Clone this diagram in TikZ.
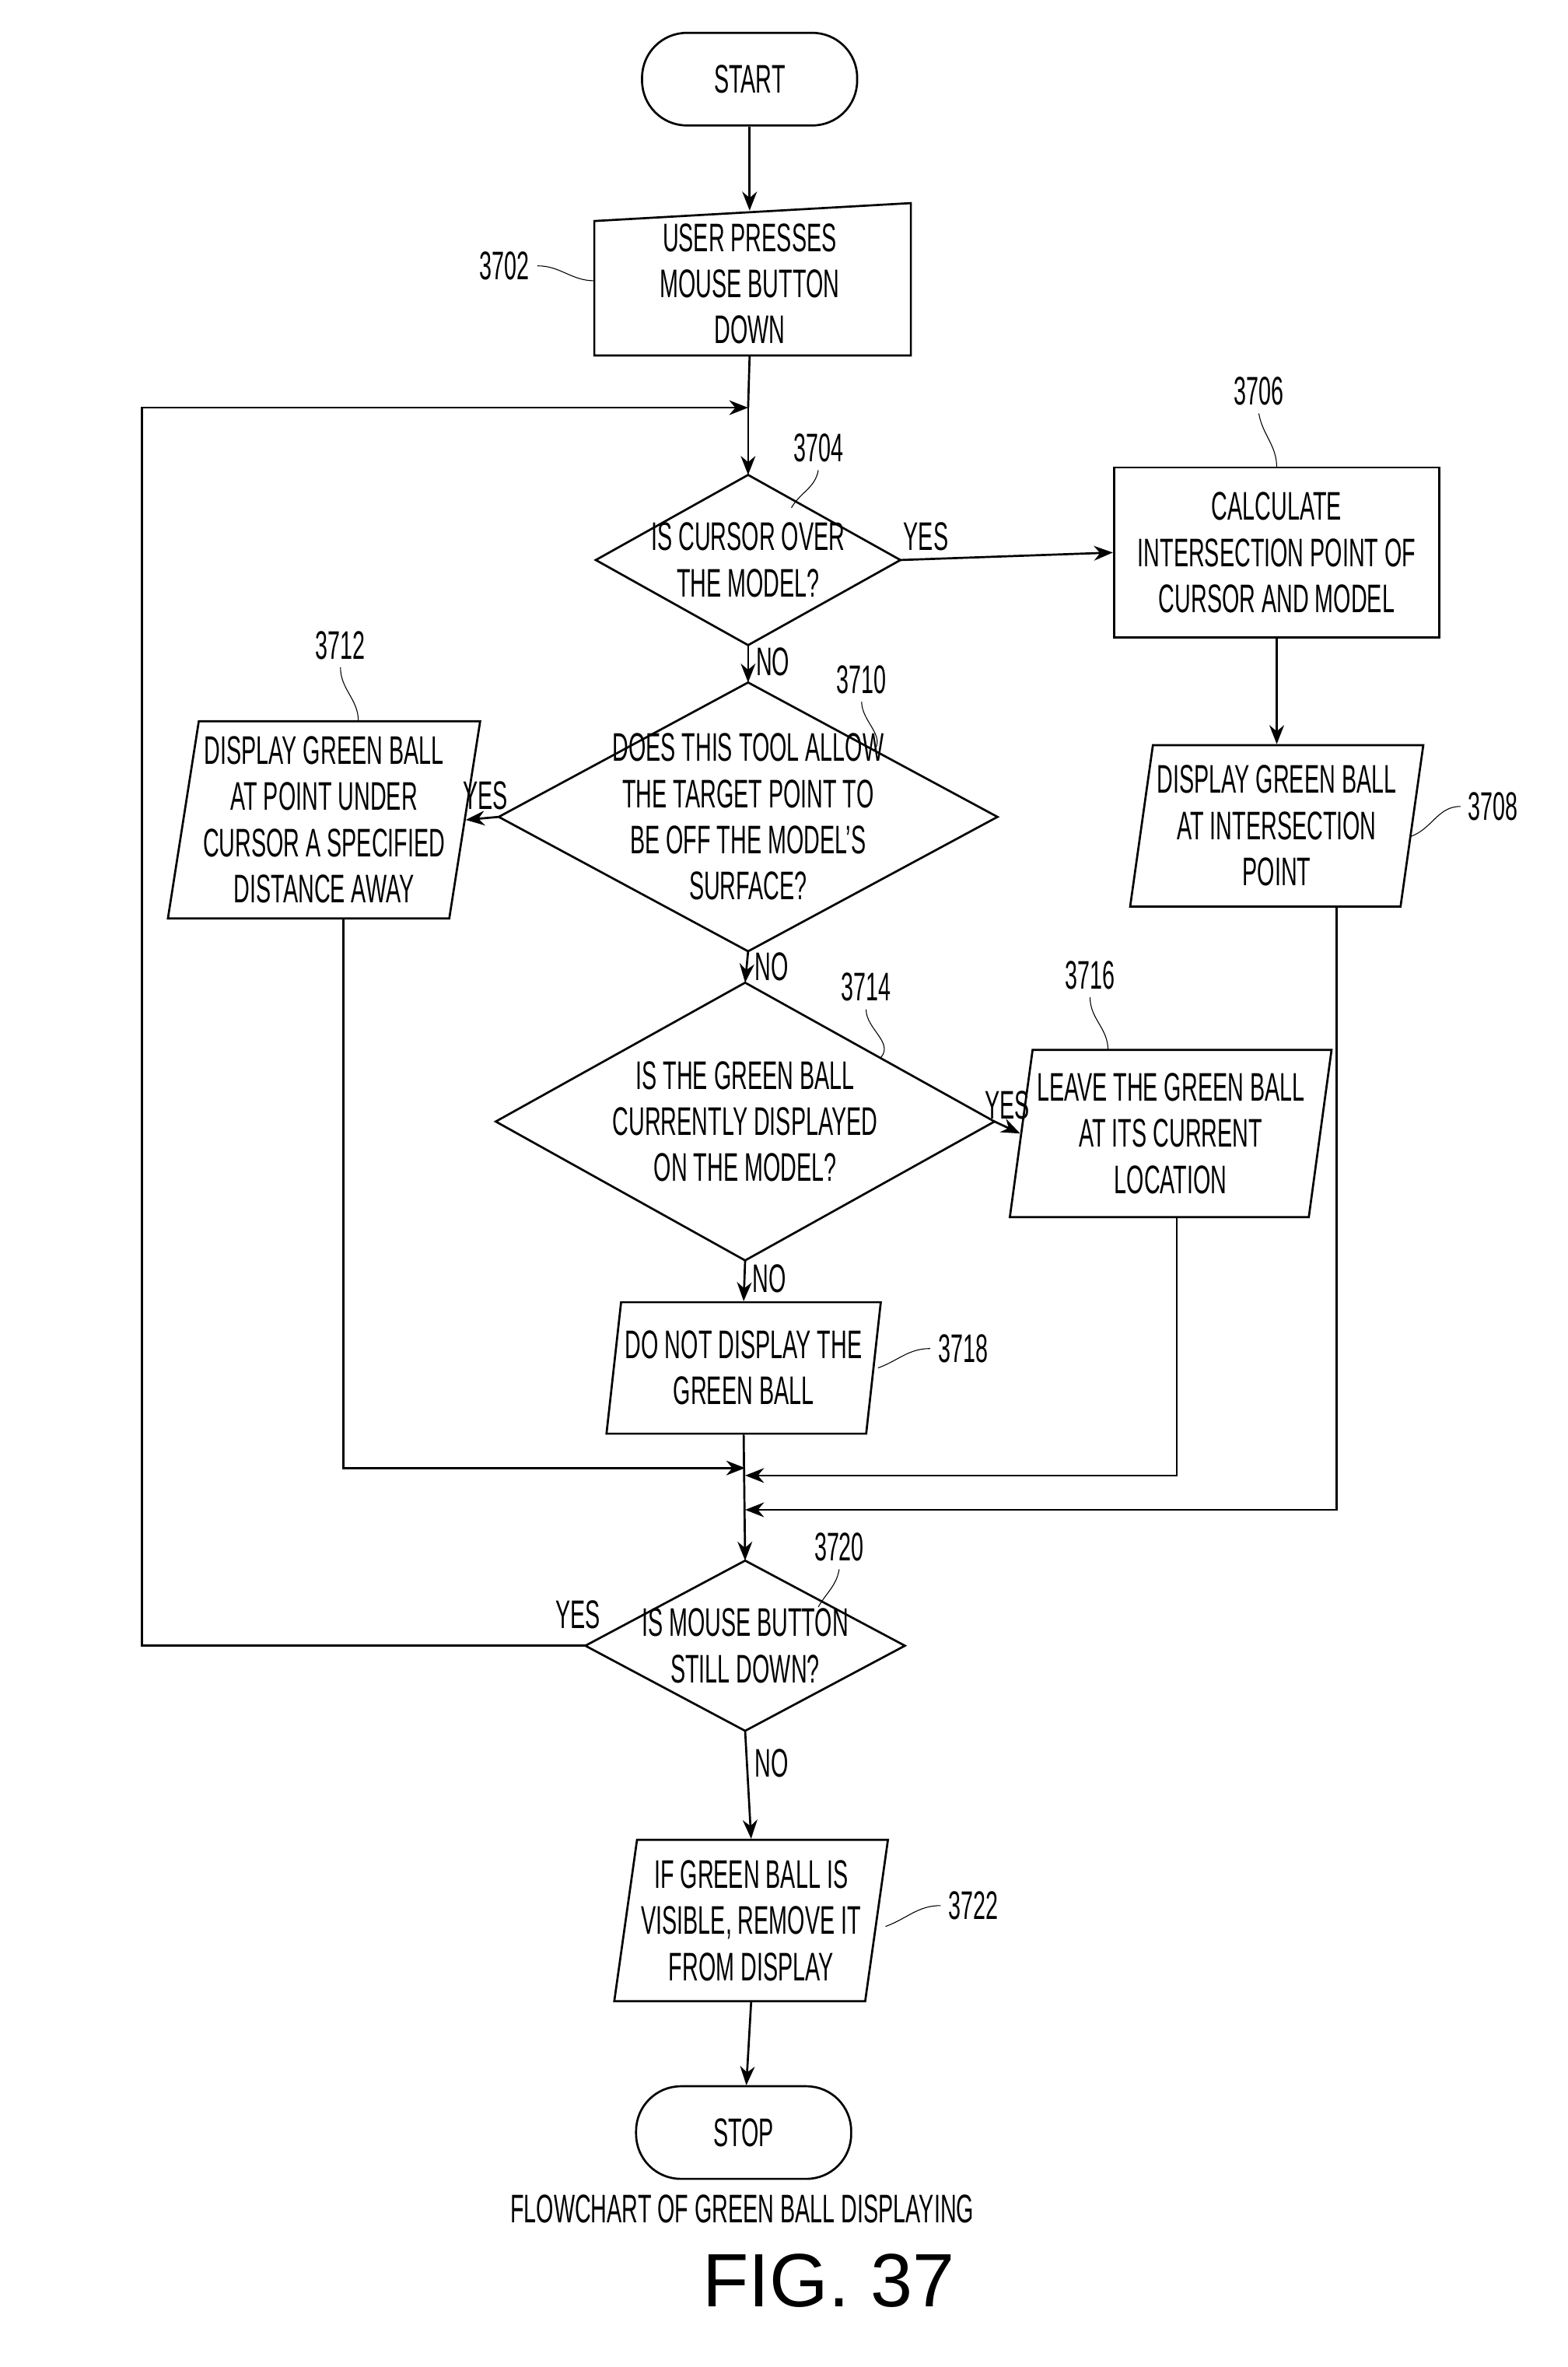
\documentclass[tikz,border=0pt]{standalone}
\usepackage{fontspec}
\setmainfont{Liberation Sans}[FakeStretch=0.56]
\newfontfamily\figfont{Liberation Sans}
\usetikzlibrary{shapes.geometric,arrows.meta}

\tikzset{
  txt/.style={font=\fontsize{19}{22}\selectfont, align=center},
  term/.style={txt, draw, rounded corners=0.75cm, minimum width=3.6cm, minimum height=1.55cm},
  proc/.style={txt, draw, minimum width=5.45cm, minimum height=2.85cm},
  io/.style={txt, draw, trapezium, trapezium left angle=80, trapezium right angle=100,
    trapezium stretches body, inner sep=2pt},
  flow/.style={-{Stealth[length=9pt,width=7pt]}},
  lead/.style={thin},
  num/.style={font=\fontsize{19}{22}\selectfont},
}
% decision: name, x, y, half width, half height, text
\newcommand\decbox[6]{%
  \draw (#2-#4,#3) -- (#2,#3-#5) -- (#2+#4,#3) -- (#2,#3+#5) -- cycle;
  \node[txt] (#1) at (#2,#3) {#6};
  \coordinate (#1-n) at (#2,#3-#5);
  \coordinate (#1-s) at (#2,#3+#5);
  \coordinate (#1-e) at (#2+#4,#3);
  \coordinate (#1-w) at (#2-#4,#3);
}

\begin{document}
\begin{tikzpicture}[x=0.025cm,y=-0.025cm,line width=1pt]
  \useasboundingbox (0,0) rectangle (1050,1585);

  % Start / stop
  \node[term] (start) at (502,53) {START};
  \node[term] (stop) at (498,1428) {STOP};

  % Manual input box
  \draw (398,148) -- (610,136) -- (610,238) -- (398,238) -- cycle;
  \node[txt] (s3702) at (502,190) {USER PRESSES\\MOUSE BUTTON\\DOWN};
  \coordinate (in3702) at (502,238);
  \coordinate (top3702) at (502,141);

  % Decisions
  \decbox{d3704}{501}{375}{102}{57}{IS CURSOR OVER\\THE MODEL?}
  \decbox{d3710}{501}{547}{167}{90}{DOES THIS TOOL ALLOW\\THE TARGET POINT TO\\BE OFF THE MODEL'S\\SURFACE?}
  \decbox{d3714}{499}{751}{167}{93}{IS THE GREEN BALL\\CURRENTLY DISPLAYED\\ON THE MODEL?}
  \decbox{d3720}{499}{1102}{107}{57}{IS MOUSE BUTTON\\STILL DOWN?}

  % Process and output boxes
  \node[proc] (p3706) at (855,370) {CALCULATE\\INTERSECTION POINT OF\\CURSOR AND MODEL};
  \node[io, minimum width=4.4cm, minimum height=2.7cm] (o3708) at (855,553) {DISPLAY GREEN BALL\\AT INTERSECTION\\POINT};
  \node[io, minimum width=4.4cm, minimum height=3.3cm] (o3712) at (217,549) {DISPLAY GREEN BALL\\AT POINT UNDER\\CURSOR A SPECIFIED\\DISTANCE AWAY};
  \node[io, minimum width=4.4cm, minimum height=2.8cm] (o3716) at (784,759) {LEAVE THE GREEN BALL\\AT ITS CURRENT\\LOCATION};
  \node[io, minimum width=4.4cm, minimum height=2.2cm] (o3718) at (498,916) {DO NOT DISPLAY THE\\GREEN BALL};
  \node[io, minimum width=4.2cm, minimum height=2.7cm] (o3722) at (503,1286) {IF GREEN BALL IS\\VISIBLE, REMOVE IT\\FROM DISPLAY};

  % Junction points
  \coordinate (loop) at (501,273);
  \coordinate (j1) at (499,983);
  \coordinate (j2) at (499,988);
  \coordinate (j3) at (499,1011);

  % Main flow
  \draw[flow] (start) -- (top3702);
  \draw (in3702) -- (loop);
  \draw[flow] (loop) -- (d3704-n);
  \draw[flow] (d3704-e) -- node[num, above, pos=0.12] {YES} (p3706.west);
  \draw[flow] (p3706) -- (o3708);
  \draw[flow] (d3704-s) -- node[num, right, pos=0.45] {NO} (d3710-n);
  \draw[flow] (d3710-w) -- node[num, above, pos=0.4] {YES} (o3712.east);
  \draw[flow] (d3710-s) -- node[num, right, pos=0.5] {NO} (d3714-n);
  \draw[flow] (d3714-e) -- node[num, above, pos=0.5] {YES} (o3716.west);
  \draw[flow] (d3714-s) -- node[num, right, pos=0.45] {NO} (o3718.north);
  \draw[flow] (o3718.south) -- (d3720-n);
  \draw[flow] (o3712.south -| 230,0) -- (230,983) -- (j1);
  \draw[flow] (o3716.south -| 788,0) -- (788,988) -- (j2);
  \draw[flow] (o3708.south -| 895,0) -- (895,1011) -- (j3);
  \draw[flow] (d3720-w) -- (95,1102) -- (95,273) -- (loop);
  \node[num] at (387,1081) {YES};
  \draw[flow] (d3720-s) -- node[num, right, pos=0.3] {NO} (o3722.north);
  \draw[flow] (o3722.south) -- (stop);

  % Reference numerals
  \node[num] (n3702) at (338,178) {3702};
  \draw[lead] (n3702.east) to[out=0,in=180] (398,188);
  \node[num] (n3704) at (548,300) {3704};
  \draw[lead] (n3704.south) to[out=-100,in=60] (530,340);
  \node[num] (n3706) at (843,262) {3706};
  \draw[lead] (n3706.south) to[out=-80,in=90] (855,313);
  \node[num] (n3708) at (1000,540) {3708};
  \draw[lead] (n3708.west) to[out=180,in=20] (945,560);
  \node[num] (n3710) at (577,455) {3710};
  \draw[lead] (n3710.south) to[out=-90,in=50] (585,503);
  \node[num] (n3712) at (228,432) {3712};
  \draw[lead] (n3712.south) to[out=-90,in=90] (240,483);
  \node[num] (n3714) at (580,661) {3714};
  \draw[lead] (n3714.south) to[out=-90,in=50] (590,708);
  \node[num] (n3716) at (730,653) {3716};
  \draw[lead] (n3716.south) to[out=-90,in=90] (742,703);
  \node[num] (n3718) at (645,903) {3718};
  \draw[lead] (n3718.west) to[out=180,in=20] (588,916);
  \node[num] (n3720) at (562,1036) {3720};
  \draw[lead] (n3720.south) to[out=-100,in=60] (548,1076);
  \node[num] (n3722) at (652,1276) {3722};
  \draw[lead] (n3722.west) to[out=180,in=20] (593,1290);

  % Caption
  \node[num] (cap) at (497,1479) {FLOWCHART OF GREEN BALL DISPLAYING};
  \node[font=\figfont\fontsize{36}{40}\selectfont] (fig) at (555,1527) {FIG. 37};
\end{tikzpicture}
\end{document}
